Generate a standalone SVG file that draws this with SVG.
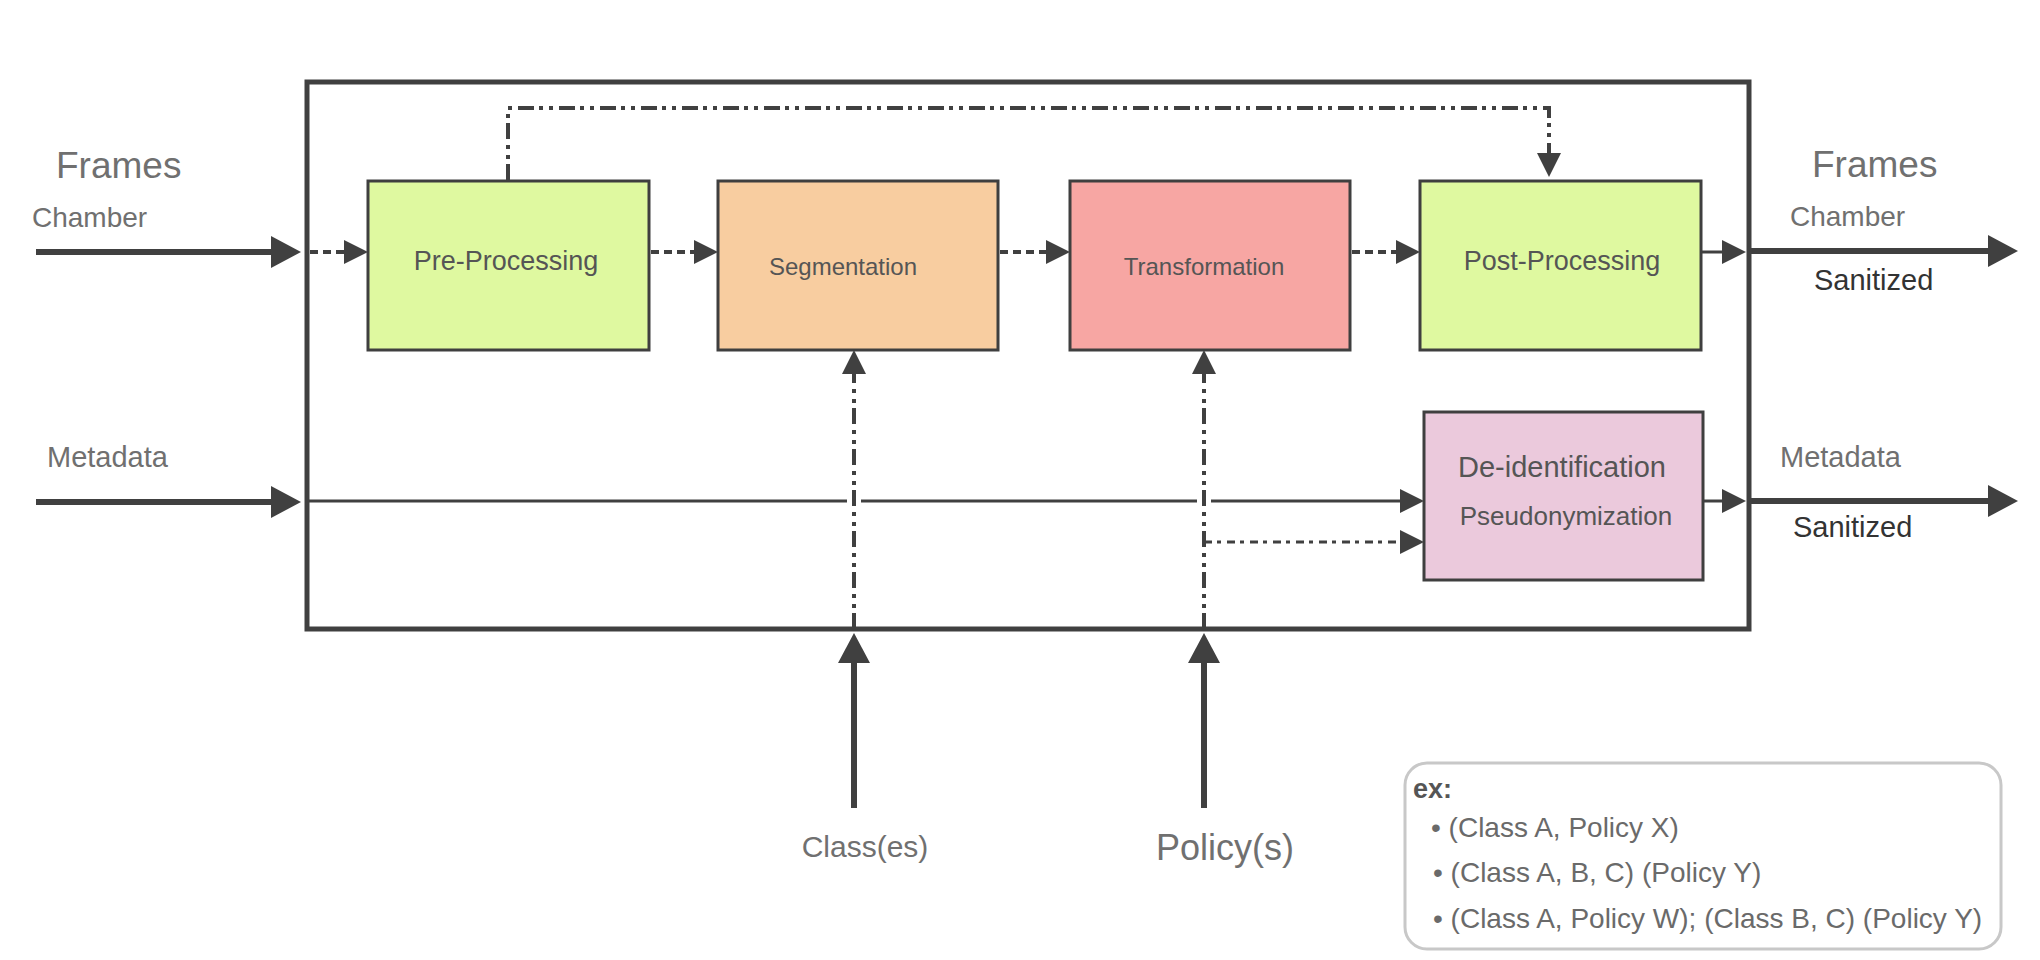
<svg xmlns="http://www.w3.org/2000/svg" width="2040" height="960" viewBox="0 0 2040 960">
<style>
  text { font-family: "Liberation Sans", Arial, sans-serif; }
  .lbl { fill: #707070; }
  .san { fill: #333333; }
  .btxt { fill: #555555; text-anchor: middle; }
  .box { stroke: #3f3f3f; stroke-width: 3; }
  .thick { fill: none; stroke: #404040; stroke-width: 6; }
  .thin { fill: none; stroke: #404040; stroke-width: 3; }
  .dash { fill: none; stroke: #404040; stroke-width: 4; stroke-dasharray: 8 5; }
  .dd { fill: none; stroke: #404040; stroke-width: 4; stroke-dasharray: 16 5 4 6 4 6; }
  .dot1 { fill: none; stroke: #404040; stroke-width: 3; stroke-dasharray: 8 5 4 6; }
  .leg { fill: #6a6a6a; font-size: 28px; }
</style>
<defs>
  <marker id="big" markerUnits="userSpaceOnUse" markerWidth="30" markerHeight="32" refX="0" refY="16" orient="auto" overflow="visible">
    <path d="M0,0 L30,16 L0,32 z" fill="#404040"/>
  </marker>
  <marker id="med" markerUnits="userSpaceOnUse" markerWidth="24" markerHeight="24" refX="0" refY="12" orient="auto" overflow="visible">
    <path d="M0,0 L24,12 L0,24 z" fill="#404040"/>
  </marker>
</defs>

<g id="frame">
  <rect x="307" y="82" width="1442" height="547" fill="none" stroke="#404040" stroke-width="5"/>
</g>

<g id="pre-processing">
  <rect class="box" x="368" y="181" width="281" height="169" fill="#dff9a0"/>
  <text class="btxt" x="506" y="270" font-size="27">Pre-Processing</text>
</g>
<g id="segmentation">
  <rect class="box" x="718" y="181" width="280" height="169" fill="#f8cda0"/>
  <text class="btxt" x="843" y="275" font-size="24">Segmentation</text>
</g>
<g id="transformation">
  <rect class="box" x="1070" y="181" width="280" height="169" fill="#f7a6a3"/>
  <text class="btxt" x="1204" y="275" font-size="24">Transformation</text>
</g>
<g id="post-processing">
  <rect class="box" x="1420" y="181" width="281" height="169" fill="#dff9a0"/>
  <text class="btxt" x="1562" y="270" font-size="27">Post-Processing</text>
</g>
<g id="de-identification">
  <rect class="box" x="1424" y="412" width="279" height="168" fill="#ebc9dc"/>
  <text class="btxt" x="1562" y="477" font-size="29">De-identification</text>
  <text class="btxt" x="1566" y="525" font-size="26">Pseudonymization</text>
</g>

<g id="labels">
  <text class="lbl" x="56" y="178" font-size="37">Frames</text>
  <text class="lbl" x="32" y="227" font-size="28">Chamber</text>
  <text class="lbl" x="47" y="467" font-size="29">Metadata</text>
  <text class="lbl" x="1812" y="177" font-size="37">Frames</text>
  <text class="lbl" x="1790" y="226" font-size="28">Chamber</text>
  <text class="san" x="1814" y="290" font-size="29">Sanitized</text>
  <text class="lbl" x="1780" y="467" font-size="29">Metadata</text>
  <text class="san" x="1793" y="537" font-size="29">Sanitized</text>
  <text class="lbl" x="865" y="857" font-size="30" text-anchor="middle">Class(es)</text>
  <text class="lbl" x="1225" y="860" font-size="36" text-anchor="middle">Policy(s)</text>
</g>

<g id="legend">
  <rect x="1405" y="763" width="596" height="186" rx="22" fill="#ffffff" stroke="#c8c8c8" stroke-width="3"/>
  <text x="1413" y="798" font-size="27" font-weight="bold" fill="#555555">ex:</text>
  <text class="leg" x="1431" y="837">• (Class A, Policy X)</text>
  <text class="leg" x="1433" y="882">• (Class A, B, C) (Policy Y)</text>
  <text class="leg" x="1433" y="928">• (Class A, Policy W); (Class B, C) (Policy Y)</text>
</g>

<g id="connectors">
  <path class="thick" d="M36,252 H271" marker-end="url(#big)"/>
  <path class="thick" d="M36,502 H271" marker-end="url(#big)"/>
  <path class="thick" d="M1749,251 H1988" marker-end="url(#big)"/>
  <path class="thick" d="M1749,501 H1988" marker-end="url(#big)"/>
  <path class="thick" d="M854,808 V663" marker-end="url(#big)"/>
  <path class="thick" d="M1204,808 V663" marker-end="url(#big)"/>

  <path class="dash" d="M310,252 H344" marker-end="url(#med)"/>
  <path class="dash" d="M651,252 H694" marker-end="url(#med)"/>
  <path class="dash" d="M1000,252 H1046" marker-end="url(#med)"/>
  <path class="dash" d="M1352,252 H1396" marker-end="url(#med)"/>
  <path class="thin" d="M1702,252 H1722" marker-end="url(#med)"/>
  <path class="thin" d="M1704,501 H1722" marker-end="url(#med)"/>

  <path class="thin" d="M309,501 H847 M861,501 H1197 M1211,501 H1400" marker-end="url(#med)"/>

  <path class="dd" d="M508,180 V108 H1549 V153" marker-end="url(#med)"/>
  <path class="dd" d="M854,629 V374" marker-end="url(#med)"/>
  <path class="dd" d="M1204,629 V374" marker-end="url(#med)"/>
  <path class="dot1" d="M1204,542 H1400" marker-end="url(#med)"/>
</g>
</svg>
